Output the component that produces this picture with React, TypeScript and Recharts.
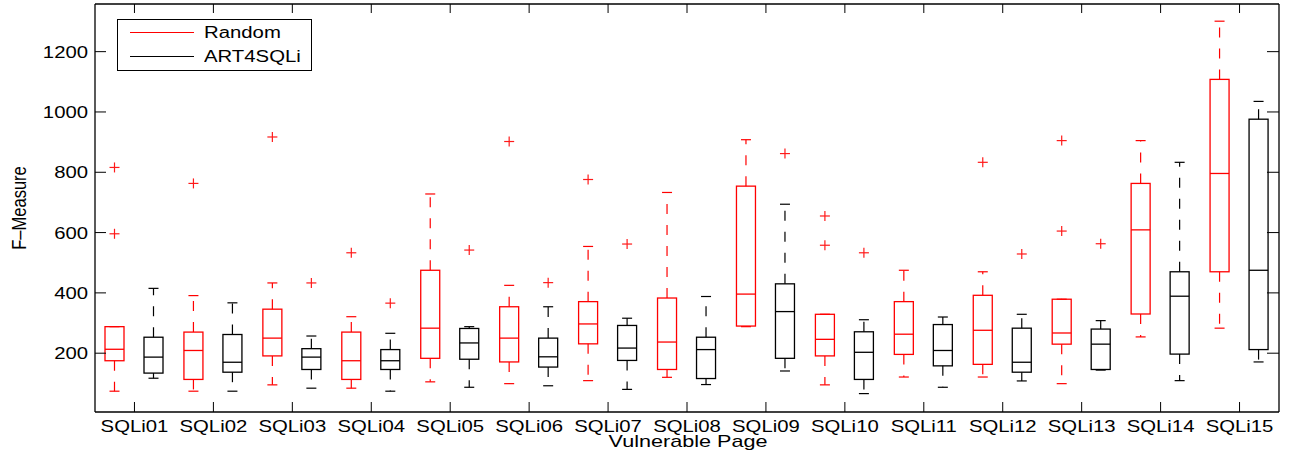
import React from "react";
import { ComposedChart, Bar, Line, XAxis, YAxis, Legend } from "recharts";

// ─── Data ─────────────────────────────────────────────────────────────────────
const categories = [
  "SQLi01", "SQLi02", "SQLi03", "SQLi04", "SQLi05", "SQLi06", "SQLi07", "SQLi08",
  "SQLi09", "SQLi10", "SQLi11", "SQLi12", "SQLi13", "SQLi14", "SQLi15",
];
const seriesNames = ["Random", "ART4SQLi"];

// Random (red)
const randomLow  = [74, 74, 95, 84, 105, 99, 109, 120, 288, 95, 121, 121, 99, 254, 283];
const randomQ1   = [175, 113, 191, 113, 183, 171, 231, 146, 290, 191, 196, 163, 230, 330, 470];
const randomMed  = [213, 209, 250, 175, 283, 250, 297, 237, 396, 246, 263, 276, 267, 609, 796];
const randomQ3   = [288, 270, 346, 270, 475, 354, 371, 383, 754, 329, 371, 392, 379, 763, 1108];
const randomHigh = [288, 391, 433, 321, 728, 425, 554, 733, 908, 329, 475, 470, 379, 905, 1301];
const randomOut  = [[816, 596], [763], [917], [533], [], [902], [776], [], [], [655, 558], [], [833], [905, 605], [], []];

// ART4SQLi (black)
const artLow  = [117, 74, 84, 74, 87, 92, 80, 96, 141, 66, 87, 108, 144, 109, 171];
const artQ1   = [134, 137, 146, 146, 180, 154, 176, 116, 183, 113, 158, 137, 146, 197, 212];
const artMed  = [187, 170, 187, 175, 234, 188, 217, 212, 338, 203, 209, 170, 230, 389, 475];
const artQ3   = [253, 262, 215, 212, 282, 250, 292, 253, 430, 271, 295, 283, 280, 470, 976];
const artHigh = [415, 367, 257, 266, 288, 354, 316, 388, 694, 311, 320, 329, 308, 833, 1035];
const artOut  = [[], [], [433], [366], [542], [434], [562], [], [862], [533], [], [529], [563], [], []];

const yTicks = [200, 400, 600, 800, 1000, 1200];

type Stats = { lo: number; q1: number; med: number; q3: number; hi: number; out: number[] };
type Row = { name: string; r: Stats; a: Stats };

const rows: Row[] = categories.map((name, i) => ({
  name,
  r: { lo: randomLow[i], q1: randomQ1[i], med: randomMed[i], q3: randomQ3[i], hi: randomHigh[i], out: randomOut[i] },
  a: { lo: artLow[i], q1: artQ1[i], med: artMed[i], q3: artQ3[i], hi: artHigh[i], out: artOut[i] },
}));

const FONT = '"Liberation Sans", Arial, Helvetica, sans-serif';
const STRETCH = 1.27;
const RED = "#ff0000";
const OUTLIER = "#ff1a1a";
const DASH = "10 11";

// ─── Box shape: range bar [q1, q3] gives the scale for the rest ───────────────
const makeBox = (key: "r" | "a", color: string) => (props: any) => {
  const { x, y, width, height, payload } = props;
  const s: Stats = payload[key];
  const k = height / (s.q3 - s.q1);
  const py = (v: number) => y + (s.q3 - v) * k;
  const cx = x + width / 2;
  const cap = 5;
  return (
    <g>
      <line x1={cx} x2={cx} y1={py(s.q3)} y2={py(s.hi)} stroke={color} strokeWidth={1.2} strokeDasharray={DASH} />
      <line x1={cx} x2={cx} y1={py(s.q1)} y2={py(s.lo)} stroke={color} strokeWidth={1.2} strokeDasharray={DASH} />
      <line x1={cx - cap} x2={cx + cap} y1={py(s.hi)} y2={py(s.hi)} stroke={color} strokeWidth={1.2} />
      <line x1={cx - cap} x2={cx + cap} y1={py(s.lo)} y2={py(s.lo)} stroke={color} strokeWidth={1.2} />
      <rect x={x} y={y} width={width} height={height} fill="none" stroke={color} strokeWidth={1.3} />
      <line x1={x} x2={x + width} y1={py(s.med)} y2={py(s.med)} stroke={color} strokeWidth={1.3} />
      {s.out.map((v, i) => (
        <g key={i} stroke={OUTLIER} strokeWidth={1.2}>
          <line x1={cx - 5} x2={cx + 5} y1={py(v)} y2={py(v)} />
          <line x1={cx} x2={cx} y1={py(v) - 5} y2={py(v) + 5} />
        </g>
      ))}
    </g>
  );
};

// ─── Ticks (MATLAB style, pointing inward) ────────────────────────────────────
const XTick = ({ x, y, payload }: any) => (
  <g>
    <line x1={x} x2={x} y1={y} y2={y - 10} stroke="#000" />
    <text
      transform={`translate(${x},${y + 19.5}) scale(${STRETCH},1)`}
      textAnchor="middle"
      fontSize={16}
      fontFamily={FONT}
      fill="#000"
    >
      {payload.value}
    </text>
  </g>
);

const TopTick = ({ x, y }: any) => <line x1={x} x2={x} y1={y} y2={y + 9} stroke="#000" />;

const YTick = ({ x, y, payload }: any) => (
  <g>
    <line x1={x} x2={x + 11} y1={y} y2={y} stroke="#000" />
    <text
      transform={`translate(${x - 7},${y + 6}) scale(${STRETCH},1)`}
      textAnchor="end"
      fontSize={16}
      fontFamily={FONT}
      fill="#000"
    >
      {payload.value}
    </text>
  </g>
);

const RightTick = ({ x, y }: any) => <line x1={x} x2={x - 12} y1={y} y2={y} stroke="#000" />;

// ─── Legend ───────────────────────────────────────────────────────────────────
function BoxLegend({ payload }: any) {
  const items = seriesNames
    .map((n) => (payload || []).find((p: any) => p.value === n))
    .filter(Boolean);
  return (
    <div
      style={{
        width: 193,
        height: 50,
        border: "1px solid #000",
        background: "#fff",
        position: "relative",
        fontFamily: FONT,
        fontSize: 16,
      }}
    >
      {items.map((p: any, i: number) => (
        <div key={p.value} style={{ position: "absolute", left: 0, top: 4 + i * 24, height: 20, width: "100%" }}>
          <div style={{ position: "absolute", left: 12, top: 8, width: 64, height: 0, borderTop: `1.3px solid ${p.color}` }} />
          <div
            style={{
              position: "absolute",
              left: 86,
              top: 0,
              lineHeight: "18px",
              transform: `scale(${STRETCH},1)`,
              transformOrigin: "left center",
              whiteSpace: "nowrap",
              color: "#000",
            }}
          >
            {p.value}
          </div>
        </div>
      ))}
    </div>
  );
}

export default function App() {
  return (
    <div style={{ position: "absolute", left: 0, top: 0, width: 1293, height: 455, background: "#fff" }}>
      <ComposedChart
        width={1293}
        height={455}
        data={rows}
        margin={{ top: 3, right: 13, bottom: 0, left: 0 }}
        barSize={19}
        barGap={20}
      >
        <XAxis
          dataKey="name"
          height={43}
          tickSize={0}
          tickMargin={0}
          tickLine={false}
          tick={<XTick />}
          interval={0}
          axisLine={{ stroke: "#000", strokeWidth: 1.3 }}
        />
        <XAxis
          xAxisId="top"
          dataKey="name"
          orientation="top"
          height={1}
          tickSize={0}
          tickMargin={0}
          tickLine={false}
          tick={<TopTick />}
          interval={0}
          axisLine={{ stroke: "#000", strokeWidth: 1.3 }}
        />
        <YAxis
          type="number"
          width={95}
          domain={[5, 1358]}
          ticks={yTicks}
          allowDataOverflow
          tickSize={0}
          tickMargin={0}
          tickLine={false}
          tick={<YTick />}
          axisLine={{ stroke: "#000", strokeWidth: 1.3 }}
        />
        <YAxis
          yAxisId="right"
          orientation="right"
          type="number"
          width={1}
          domain={[5, 1358]}
          ticks={yTicks}
          allowDataOverflow
          tickSize={0}
          tickMargin={0}
          tickLine={false}
          tick={<RightTick />}
          interval={0}
          axisLine={{ stroke: "#000", strokeWidth: 1.3 }}
        />
        <Legend
          layout="horizontal"
          align="center"
          verticalAlign="middle"
          content={<BoxLegend />}
          wrapperStyle={{ left: 117, top: 19, width: 195, height: 52 }}
        />
        <Bar
          name="Random"
          dataKey={(d: Row) => [d.r.q1, d.r.q3]}
          fill={RED}
          shape={makeBox("r", RED)}
          isAnimationActive={false}
        />
        <Bar
          name="ART4SQLi"
          dataKey={(d: Row) => [d.a.q1, d.a.q3]}
          fill="#000"
          shape={makeBox("a", "#000")}
          isAnimationActive={false}
        />
        {/* invisible series tied to the mirrored top/right axes */}
        <Line
          xAxisId="top"
          yAxisId="right"
          dataKey={(d: Row) => d.r.med}
          stroke="none"
          dot={false}
          activeDot={false}
          legendType="none"
          isAnimationActive={false}
        />
      </ComposedChart>
      <div
        style={{
          position: "absolute",
          left: 688,
          top: 432.5,
          transform: `translateX(-50%) scale(${STRETCH},1)`,
          fontFamily: FONT,
          fontSize: 17,
          lineHeight: "17px",
          whiteSpace: "nowrap",
        }}
      >
        Vulnerable Page
      </div>
      <div
        style={{
          position: "absolute",
          left: 18,
          top: 208,
          transform: `translate(-50%,-50%) scale(${STRETCH},1) rotate(-90deg)`,
          fontFamily: FONT,
          fontSize: 16.5,
          lineHeight: "16px",
          whiteSpace: "nowrap",
        }}
      >
        F–Measure
      </div>
    </div>
  );
}
